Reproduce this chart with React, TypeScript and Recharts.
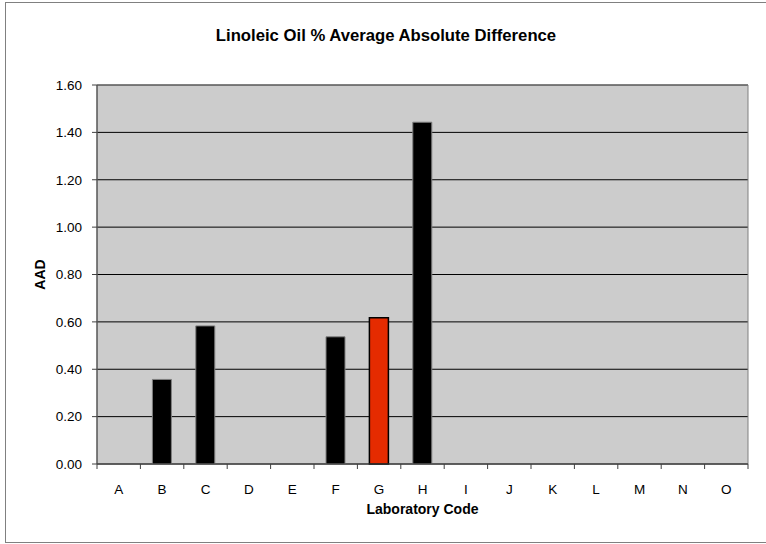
import React from 'react';
import { BarChart, Bar, XAxis, YAxis, CartesianGrid, ReferenceArea, Label, Cell } from 'recharts';

// laboratory codes along the x axis
const labs = ['A', 'B', 'C', 'D', 'E', 'F', 'G', 'H', 'I', 'J', 'K', 'L', 'M', 'N', 'O'];
// average absolute difference per lab (null = no result)
const aad = [null, 0.357, 0.583, null, null, 0.537, 0.617, 1.443, null, null, null, null, null, null, null];
const highlightLab = 'G';
const yTicks = [0, 0.2, 0.4, 0.6, 0.8, 1.0, 1.2, 1.4, 1.6];

const data = labs.map((lab, i) => ({ lab, aad: aad[i] }));

const font = '"Liberation Sans", Arial, sans-serif';
const axisColor = '#404040';

// category tick: label in the middle of the slot, tick marks on the slot edges (Excel style)
function LabTick(props: any) {
  const { x, y, payload, index, visibleTicksCount } = props;
  const half = payload.offset || 0;
  const last = index === visibleTicksCount - 1;
  return (
    <g>
      <line x1={x - half} y1={y} x2={x - half} y2={y + 5} stroke={axisColor} />
      {last && <line x1={x + half} y1={y} x2={x + half} y2={y + 5} stroke={axisColor} />}
      <text x={x} y={y + 20} dy="0.71em" textAnchor="middle" fontSize={13.5} fontFamily={font} fill="#000">
        {payload.value}
      </text>
    </g>
  );
}

export default function App() {
  return (
    <div style={{ position: 'absolute', left: 0, top: 0, width: 766, height: 544, fontFamily: font, overflow: 'hidden', background: '#fff' }}>
      <div style={{ position: 'absolute', left: 5, top: 2, width: 800, height: 539, border: '1px solid #808080' }} />
      <div style={{ position: 'absolute', left: 5, top: 26, width: 762, textAlign: 'center', fontSize: 16.7, fontWeight: 'bold', color: '#000' }}>
        Linoleic Oil % Average Absolute Difference
      </div>
      <div style={{ position: 'absolute', left: 0, top: 0 }}>
        <BarChart width={766} height={544} data={data} margin={{ top: 85, right: 18, bottom: 50, left: 0 }}>
          <CartesianGrid vertical={false} stroke="#000" fill="#cccccc" />
          <XAxis
            dataKey="lab"
            height={30}
            tickLine={false}
            tickSize={0}
            tickMargin={0}
            stroke={axisColor}
            tick={<LabTick />}
            interval={0}
          >
            <Label
              content={({ viewBox }: any) => (
                <text x={viewBox.x + viewBox.width / 2} y={514} textAnchor="middle" fontSize={14} fontWeight="bold" fontFamily={font} fill="#000">
                  Laboratory Code
                </text>
              )}
            />
          </XAxis>
          <YAxis
            width={97}
            domain={[0, 1.6]}
            ticks={yTicks}
            tickFormatter={(v: number) => v.toFixed(2)}
            tickSize={5}
            tickMargin={10}
            stroke={axisColor}
            tick={{ fill: '#000', fontSize: 13.5, fontFamily: font }}
          >
            <Label
              content={({ viewBox }: any) => {
                const cx = 40;
                const cy = viewBox.y + viewBox.height / 2;
                return (
                  <text x={cx} y={cy} transform={`rotate(-90 ${cx} ${cy})`} textAnchor="middle" dominantBaseline="central" fontSize={14} fontWeight="bold" fontFamily={font} fill="#000">
                    AAD
                  </text>
                );
              }}
            />
          </YAxis>
          <ReferenceArea x1="A" x2="O" y1={0} y2={1.6} fill="none" stroke="#808080" strokeWidth={1} ifOverflow="visible" />
          <Bar dataKey="aad" barSize={19} isAnimationActive={false}>
            {data.map((d) => (
              <Cell
                key={d.lab}
                fill={d.lab === highlightLab ? '#e52b00' : '#000000'}
                stroke={d.lab === highlightLab ? '#000000' : '#808080'}
                strokeWidth={d.lab === highlightLab ? 1.5 : 1}
              />
            ))}
          </Bar>
        </BarChart>
      </div>
    </div>
  );
}
